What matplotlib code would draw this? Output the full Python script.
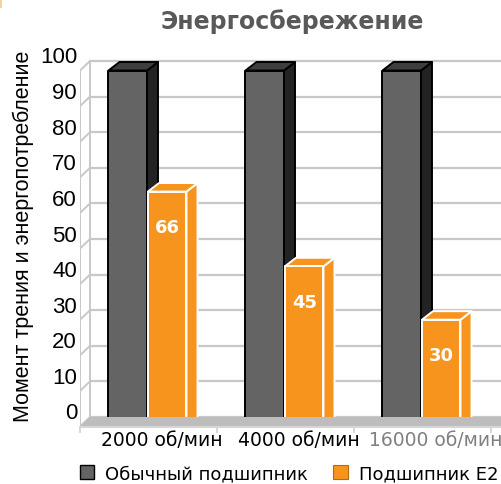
#! /usr/bin/env python3
# -*- coding: utf-8 -*-
import matplotlib
matplotlib.use('Agg')
import matplotlib.pyplot as plt
from matplotlib.patches import Polygon, Rectangle, Patch
import numpy as np

# data
categories = ['2000 об/мин', '4000 об/мин', '16000 об/мин']
usual = [100, 100, 100]
e2 = [66, 45, 30]
series_names = ['Обычный подшипник', 'Подшипник E2']
yticks = list(range(0, 101, 10))

W, H = 502, 485
PX_X = 137.0   # pixels per category
PX_Y = 3.56    # pixels per unit
Y0_PX = 427.5  # pixel row of value 0 (front plane)
AX_L, AX_R, AX_B, AX_T = 80, 502, 440, 40
X_LEFT = -0.489

GREY = '#646464'
GREY_SIDE = '#232323'
GREY_TOP = '#3e3e3e'
ORANGE = '#F7941D'
GRID = '#c8c8c8'


def px2dx(p):
    return p / PX_X


def px2dy(p):
    return p / PX_Y


def draw_box(ax, x0, x1, v, dx, dy, front, side, top, ec):
    ax.add_patch(Polygon([(x1, 0), (x1, v), (x1 + dx, v + dy), (x1 + dx, dy)],
                         closed=True, fc=side, ec=ec, lw=1.4, joinstyle='round'))
    ax.add_patch(Polygon([(x0, v), (x1, v), (x1 + dx, v + dy), (x0 + dx, v + dy)],
                         closed=True, fc=top, ec=ec, lw=1.4, joinstyle='round'))
    ax.add_patch(Rectangle((x0, 0), x1 - x0, v, fc=front, ec=ec, lw=1.4,
                           joinstyle='round'))


def main():
    fig = plt.figure(figsize=(W / 100, H / 100), dpi=100)
    ax = fig.add_axes([AX_L / W, (H - AX_B) / H, (AX_R - AX_L) / W, (AX_B - AX_T) / H])
    ax.set_xlim(X_LEFT, X_LEFT + (AX_R - AX_L) / PX_X)
    ax.set_ylim(-(AX_B - Y0_PX) / PX_Y, (Y0_PX - AX_T) / PX_Y)
    ax.axis('off')

    # wall depth
    wdx, wdy = px2dx(10), px2dy(9.5)
    xr = X_LEFT + (AX_R - AX_L) / PX_X + 0.2

    # back wall grid + left wall
    for v in yticks:
        ax.plot([X_LEFT + wdx, xr], [v + wdy, v + wdy], color=GRID, lw=1.6,
                solid_capstyle='butt', zorder=1)
        ax.plot([X_LEFT, X_LEFT + wdx], [v, v + wdy], color=GRID, lw=1.4, zorder=1)
        ax.text(X_LEFT - px2dx(3), v + wdy + px2dy(4), str(v), ha='right', va='center',
                fontsize=16, family='Liberation Sans', color='black')
    ax.plot([X_LEFT, X_LEFT], [0, 100], color=GRID, lw=1.4, zorder=1)
    ax.plot([X_LEFT + wdx, X_LEFT + wdx], [wdy, 100 + wdy], color=GRID, lw=1.4, zorder=1)

    # floor
    ax.add_patch(Polygon([(X_LEFT, 0), (xr, 0), (xr + wdx, wdy), (X_LEFT + wdx, wdy)],
                         closed=True, fc='#bdbdbd', ec='none', zorder=2))
    ax.plot([X_LEFT, xr], [0, 0], color='#d6d6d6', lw=1.5, zorder=2)
    for b in np.arange(len(categories) + 1) + X_LEFT:
        ax.plot([b, b], [0, -px2dy(5)], color='#d6d6d6', lw=1.4, clip_on=False, zorder=2)

    # bars
    bw = px2dx(38.5)
    bdx, bdy = px2dx(11), px2dy(8.5)
    xs = np.arange(len(categories))
    for i, c in enumerate(xs):
        draw_box(ax, c - bw, c, usual[i], bdx, bdy, GREY, GREY_SIDE, GREY_TOP, 'black')
    for i, c in enumerate(xs):
        draw_box(ax, c + px2dx(1), c + px2dx(1) + bw, e2[i], bdx, bdy,
                 ORANGE, ORANGE, ORANGE, 'white')
        ax.text(c + px2dx(1) + bw / 2, e2[i] - 10, str(e2[i]), ha='center', va='center',
                fontsize=13, fontweight='bold', color='white', family='DejaVu Sans')

    # category labels
    for i, c in enumerate(xs):
        col = '#808080' if i == 2 else 'black'
        ax.text(c + px2dx(15), -px2dy(AX_B - Y0_PX + 0.5), categories[i], ha='center',
                va='center', fontsize=13.5, color=col, family='DejaVu Sans', clip_on=False)

    fig.text(292 / W, 1 - 22 / H, 'Энергосбережение', ha='center', va='center',
             fontsize=17, fontweight='bold', color='#595959', family='DejaVu Sans')
    fig.text(23 / W, 1 - 236 / H, 'Момент трения и энергопотребление', rotation=90,
             ha='center', va='center', fontsize=15.5, family='Liberation Sans')

    handles = [Patch(fc=GREY, ec='black', lw=1.0), Patch(fc=ORANGE, ec='#b86a10', lw=0.8)]
    fig.legend(handles, series_names, loc='center', ncol=2, frameon=False,
               bbox_to_anchor=(289 / W, 1 - 474 / H), prop={'family': 'DejaVu Sans', 'size': 13},
               handlelength=0.8, handleheight=0.8, handletextpad=0.6,
               columnspacing=1.4, borderpad=0, borderaxespad=0)

    # small orange corner mark
    fig.patches.append(Rectangle((0, 1 - 9 / H), 2 / W, 9 / H, transform=fig.transFigure,
                                 fc='#fbcf9c', ec='none', figure=fig))

    fig.savefig('out.png', dpi=100)
    return


if __name__ == '__main__':
    main()
